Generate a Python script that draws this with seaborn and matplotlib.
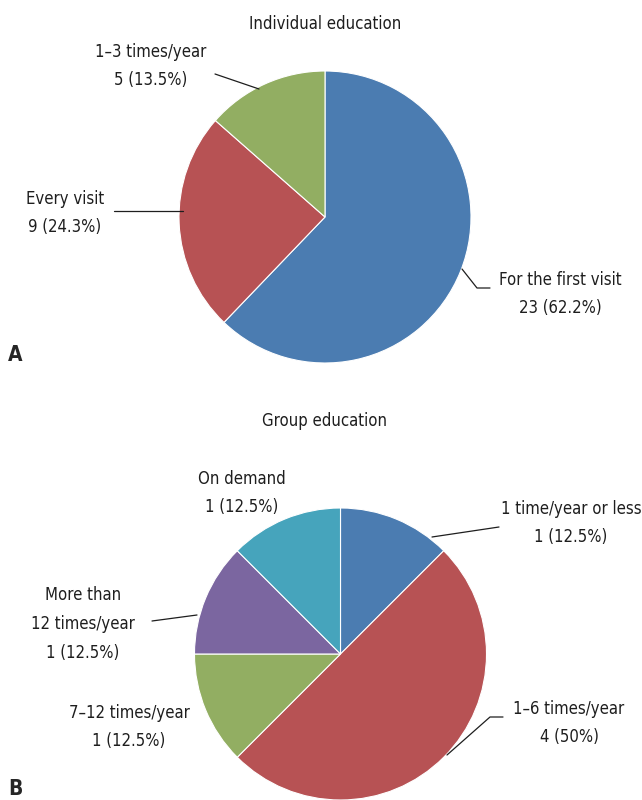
import matplotlib.pyplot as plt
import seaborn as sns

# Individual education
ind_labels = ["For the first visit", "Every visit", "1\u20133 times/year"]
ind_counts = [23, 9, 5]
ind_pcts = ["62.2%", "24.3%", "13.5%"]

# Group education
grp_labels = ["1 time/year or less", "1\u20136 times/year", "7\u201312 times/year",
              "More than\n12 times/year", "On demand"]
grp_counts = [1, 4, 1, 1, 1]
grp_pcts = ["12.5%", "50%", "12.5%", "12.5%", "12.5%"]

palette = ["#4b7cb1", "#b75254", "#92ae62", "#7b66a0", "#46a4bc"]

sns.set_style("white")
plt.rcParams['font.family'] = ['DejaVu Sans']
plt.rcParams['font.stretch'] = 'condensed'

W, H = 642, 800
fig = plt.figure(figsize=(W / 100, H / 100), dpi=100)
ax = fig.add_axes([0, 0, 1, 1])


def Y(y):
    # pixel row from top -> data y
    return H - y


def draw_pie(counts, center, colors):
    ax.pie(counts, colors=colors, center=(center[0], Y(center[1])), radius=146,
           startangle=90, counterclock=False,
           wedgeprops=dict(edgecolor='white', linewidth=0.8))


def label(x, y, text):
    ax.text(x, Y(y), text, ha='center', va='center', fontsize=12,
            color='#1e1e1e', linespacing=1.75)


def leader(xs, ys):
    ax.plot(xs, [Y(v) for v in ys], color='#1e1e1e', lw=0.9)


# ---- A: individual education
draw_pie(ind_counts, (325, 217), palette[:3])
ax.text(325, Y(24), "Individual education", ha='center', va='center',
        fontsize=12, color='#1e1e1e')
ind_pos = [(560, 294), (65, 213), (151, 66)]
for (x, y), lab, n, p in zip(ind_pos, ind_labels, ind_counts, ind_pcts):
    label(x, y, f"{lab}\n{n} ({p})")
leader([462, 477, 490], [269, 288, 288])
leader([114, 183], [211, 211])
leader([215, 259], [74, 89])
ax.text(8, Y(355), "A", ha='left', va='center', fontsize=15, fontweight='bold')

# ---- B: group education
draw_pie(grp_counts, (340.5, 654), palette)
ax.text(325, Y(421), "Group education", ha='center', va='center',
        fontsize=12, color='#1e1e1e')
grp_pos = [(571, 523), (569, 723), (129, 727), (83, 624), (242, 493)]
for (x, y), lab, n, p in zip(grp_pos, grp_labels, grp_counts, grp_pcts):
    label(x, y, f"{lab}\n{n} ({p})")
leader([499, 432], [527, 537])
leader([503, 490, 447], [717, 717, 755])
leader([152, 197], [621, 615])
ax.text(8, Y(789), "B", ha='left', va='center', fontsize=15, fontweight='bold')

ax.set_xlim(0, W)
ax.set_ylim(0, H)
ax.set_aspect('equal')
ax.axis('off')

fig.savefig("out.png", dpi=100)
